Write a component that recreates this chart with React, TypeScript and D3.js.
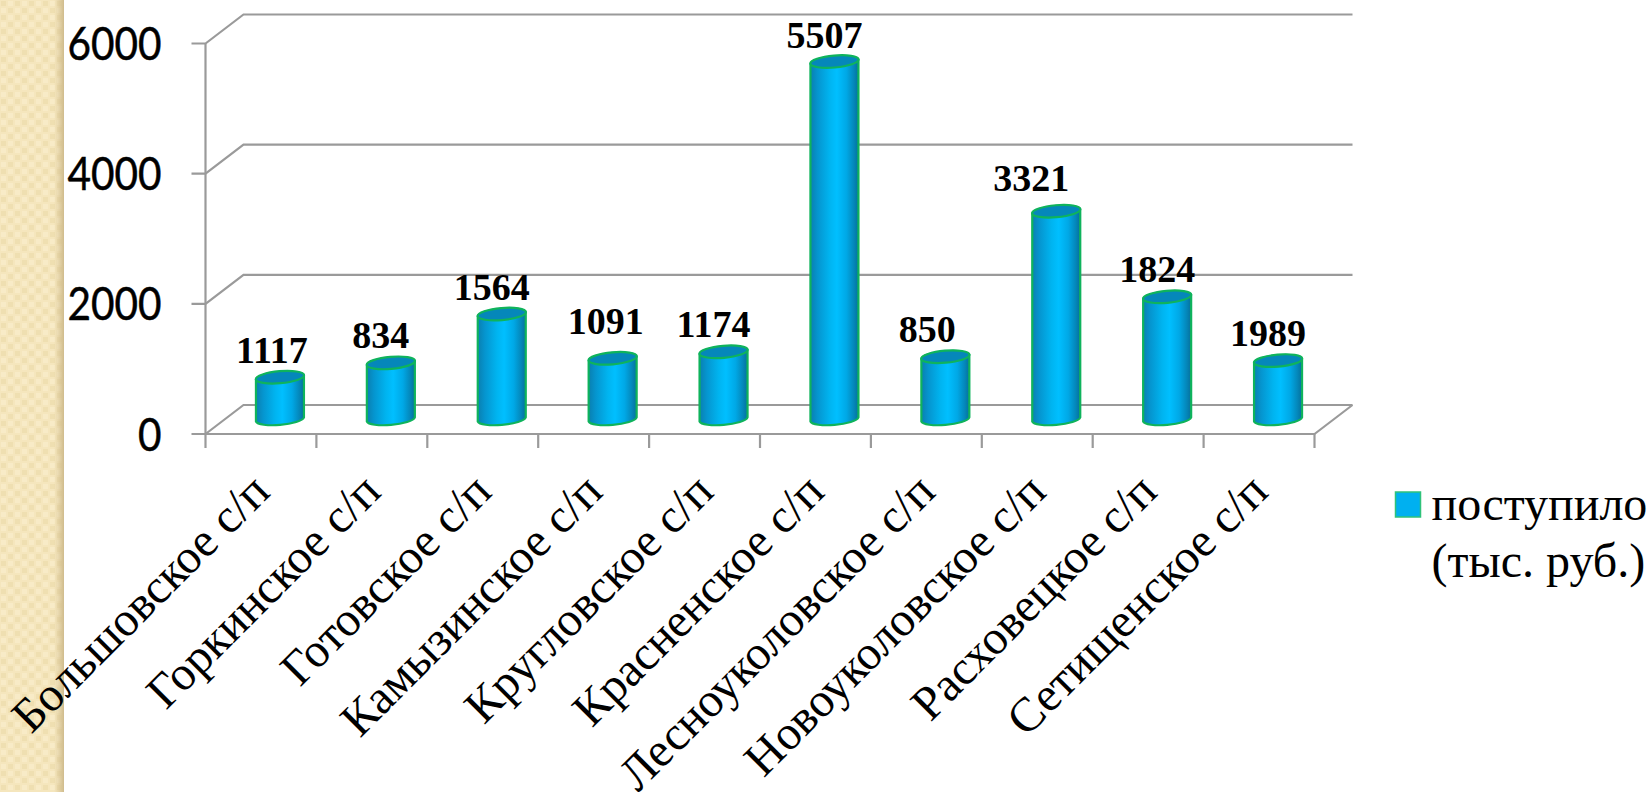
import React, { useEffect, useRef } from 'react';
import * as d3 from 'd3';

const WIDTH = 1652;
const HEIGHT = 792;

const categories = [
  'Большовское с/п',
  'Горкинское с/п',
  'Готовское с/п',
  'Камызинское с/п',
  'Кругловское с/п',
  'Красненское с/п',
  'Лесноуколовское с/п',
  'Новоуколовское с/п',
  'Расховецкое с/п',
  'Сетищенское с/п',
];

// Heights read from the cylinders. They do not agree with the printed labels in the source slide.
const plottedValues = [650, 870, 1620, 940, 1040, 5500, 965, 3200, 1885, 905];
const printedLabels = [1117, 834, 1564, 1091, 1174, 5507, 850, 3321, 1824, 1989];
const yTicks = [0, 2000, 4000, 6000];
const legendLines = ['поступило', '(тыс. руб.)'];

// Labels were dragged by hand in the slide: offset from the default spot above each cylinder
const labelNudgeX = [2, 0, 0, 3, 0, 0, -8, -15, 0, 0];
const labelNudgeY = [0, 0, 0, -10, 0, 1, 0, -6, 0, 0];

const GRID = '#9a9a9a';
const STROKE = '#0fb35c';

const App: React.FC = () => {
  const svgRef = useRef<SVGSVGElement>(null);

  useEffect(() => {
    if (!svgRef.current) return;
    const svg = d3.select(svgRef.current);
    svg.selectAll('*').remove();

    const x = d3.scaleBand<string>().domain(categories).range([205.5, 1314.5]);
    const y = d3.scaleLinear().domain([0, 6000]).range([434, 43.5]);
    const depthX = 38;
    const depthY = 29;
    const cylW = 48;
    const ry = 6;
    const tilt = 2;

    const defs = svg.append('defs');

    const pat = defs.append('pattern')
      .attr('id', 'paper')
      .attr('width', 14)
      .attr('height', 14)
      .attr('patternUnits', 'userSpaceOnUse');
    pat.append('rect').attr('width', 14).attr('height', 14).attr('fill', '#f5e6bd');
    pat.append('rect').attr('x', 1).attr('y', 1).attr('width', 5).attr('height', 5).attr('fill', '#efdfb1');
    pat.append('rect').attr('x', 8).attr('y', 8).attr('width', 5).attr('height', 5).attr('fill', '#efdfb1');
    pat.append('rect').attr('x', 8).attr('y', 1).attr('width', 5).attr('height', 5).attr('fill', '#f8ebc7');
    pat.append('rect').attr('x', 1).attr('y', 8).attr('width', 5).attr('height', 5).attr('fill', '#f8ebc7');

    const shade = defs.append('linearGradient').attr('id', 'edge');
    shade.append('stop').attr('offset', '0%').attr('stop-color', '#d8c391').attr('stop-opacity', 0);
    shade.append('stop').attr('offset', '100%').attr('stop-color', '#cdb98a').attr('stop-opacity', 0.95);

    const body = defs.append('linearGradient').attr('id', 'cyl');
    body.append('stop').attr('offset', '0%').attr('stop-color', '#0a7fb0');
    body.append('stop').attr('offset', '15%').attr('stop-color', '#0595cf');
    body.append('stop').attr('offset', '40%').attr('stop-color', '#00b4f0');
    body.append('stop').attr('offset', '55%').attr('stop-color', '#00bfff');
    body.append('stop').attr('offset', '75%').attr('stop-color', '#00a8e6');
    body.append('stop').attr('offset', '90%').attr('stop-color', '#0488bb');
    body.append('stop').attr('offset', '100%').attr('stop-color', '#05709c');

    // Slide background strip on the left
    svg.append('rect').attr('width', WIDTH).attr('height', HEIGHT).attr('fill', '#fff');
    svg.append('rect').attr('width', 64).attr('height', HEIGHT).attr('fill', 'url(#paper)');
    svg.append('rect').attr('x', 54).attr('width', 10).attr('height', HEIGHT).attr('fill', 'url(#edge)');

    // Walls and gridlines
    const [x0, x1] = x.range();
    const grid = svg.append('g')
      .attr('fill', 'none')
      .attr('stroke', GRID)
      .attr('stroke-width', 2.2);

    grid.selectAll('path.gridline')
      .data(yTicks)
      .join('path')
      .attr('class', 'gridline')
      .attr('d', d => `M${x0 - 14},${y(d)}H${x0}L${x0 + depthX},${y(d) - depthY}H${x1 + depthX}`);

    grid.append('path').attr('d', `M${x0},${y(6000)}V${y(0) + 14}`);
    grid.append('path').attr('d', `M${x0},${y(0)}H${x1}L${x1 + depthX},${y(0) - depthY}`);

    grid.selectAll('path.tick')
      .data(categories)
      .join('path')
      .attr('class', 'tick')
      .attr('d', d => {
        const tx = (x(d) as number) + x.bandwidth();
        return `M${tx},${y(0)}V${y(0) + 14}`;
      });

    // Y axis labels
    svg.append('g')
      .selectAll('text')
      .data(yTicks)
      .join('text')
      .attr('x', 161.5)
      .attr('y', d => y(d) + 16.5)
      .attr('text-anchor', 'end')
      .attr('textLength', d => String(d).length * 23.5)
      .attr('lengthAdjust', 'spacingAndGlyphs')
      .attr('stroke', '#000')
      .attr('stroke-width', 0.5)
      .style('font-family', 'Lato')
      .style('font-size', '47px')
      .text(d => d);

    const cx = (i: number) => (x(categories[i]) as number) + x.bandwidth() / 2 + depthX / 2;
    const rx = cylW / 2 + 0.2;

    // Cylinders
    const bars = svg.append('g')
      .selectAll('g')
      .data(plottedValues)
      .join('g')
      .attr('stroke', STROKE)
      .attr('stroke-width', 2.2)
      .attr('stroke-linejoin', 'round');

    bars.append('path')
      .attr('fill', 'url(#cyl)')
      .attr('d', (d, i) => {
        const l = cx(i) - cylW / 2;
        const r = cx(i) + cylW / 2;
        const top = y(d) - depthY / 2;
        const base = y(0) - depthY / 2;
        return `M${l},${top + tilt}V${base + tilt}A${rx},${ry} -5 0 0 ${r},${base - tilt}V${top - tilt}A${rx},${ry} -5 0 0 ${l},${top + tilt}Z`;
      });

    bars.append('ellipse')
      .attr('fill', '#0587ba')
      .attr('rx', rx)
      .attr('ry', ry)
      .attr('transform', (d, i) => `translate(${cx(i)},${y(d) - depthY / 2}) rotate(-5)`);

    // Printed value labels
    svg.append('g')
      .selectAll('text')
      .data(printedLabels)
      .join('text')
      .attr('x', (_, i) => cx(i) - 10 + labelNudgeX[i])
      .attr('y', (_, i) => y(plottedValues[i]) - depthY / 2 - 14.5 + labelNudgeY[i])
      .attr('text-anchor', 'middle')
      .style('font-family', '"Liberation Serif"')
      .style('font-weight', 'bold')
      .style('font-size', '38px')
      .text(d => d);

    // Category labels
    svg.append('g')
      .selectAll('text')
      .data(categories)
      .join('text')
      .attr('transform', d => `translate(${(x(d) as number) + x.bandwidth() / 2 + 11},494) rotate(-45)`)
      .attr('text-anchor', 'end')
      .style('font-family', '"Liberation Serif"')
      .style('font-size', '48px')
      .text(d => d);

    // Legend
    svg.append('rect')
      .attr('x', 1395.5)
      .attr('y', 492)
      .attr('width', 25)
      .attr('height', 25)
      .attr('fill', '#00b0f0')
      .attr('stroke', '#2fc27a')
      .attr('stroke-width', 1.5);

    svg.append('g')
      .selectAll('text')
      .data(legendLines)
      .join('text')
      .attr('x', 1431.5)
      .attr('y', (_, i) => 520 + i * 57)
      .style('font-family', '"Liberation Serif"')
      .style('font-size', '48px')
      .text(d => d);
  }, []);

  return (
    <svg
      ref={svgRef}
      width={WIDTH}
      height={HEIGHT}
      style={{ position: 'absolute', left: 0, top: 0, display: 'block' }}
    />
  );
};

export default App;
